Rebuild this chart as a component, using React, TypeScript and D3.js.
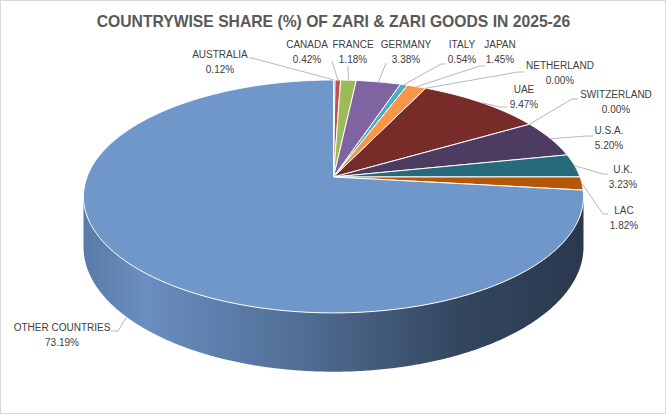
import React from "react";
import * as d3 from "d3";

const countries = ["AUSTRALIA","CANADA","FRANCE","GERMANY","ITALY","JAPAN","NETHERLAND","UAE","SWITZERLAND","U.S.A.","U.K.","LAC","OTHER COUNTRIES"];
const shares = [0.12,0.42,1.18,3.38,0.54,1.45,0.0,9.47,0.0,5.2,3.23,1.82,73.19];
const colors = ["#4F81BD","#C0504D","#9BBB59","#8064A2","#4BACC6","#F79646","#2C4D75","#772C2A","#5F7530","#4D3B62","#276A7C","#B65708","#7097C9"];
const title = "COUNTRYWISE SHARE (%) OF ZARI & ZARI GOODS IN 2025-26";

// label layout: text centre x, first baseline y, leader start (lx, ly), elbow x, attach to bottom rim
const labelLayout = [
  { x: 220, y: 58, lx: 249, ly: 58, ex: 252, bottom: false },
  { x: 307, y: 48, lx: 332, ly: 61, ex: 332, bottom: false },
  { x: 353, y: 48, lx: 348, ly: 66, ex: 348, bottom: false },
  { x: 406, y: 48, lx: 386, ly: 63, ex: 386, bottom: false },
  { x: 462, y: 48, lx: 446, ly: 64, ex: 441, bottom: false },
  { x: 500, y: 48, lx: 485, ly: 66, ex: 480, bottom: false },
  { x: 560, y: 69, lx: 524, ly: 72, ex: 518, bottom: false },
  { x: 524, y: 93, lx: 507, ly: 107, ex: 500, bottom: false },
  { x: 616, y: 98, lx: 578, ly: 99, ex: 572, bottom: false },
  { x: 609, y: 134, lx: 593, ly: 136, ex: 587, bottom: false },
  { x: 623, y: 173, lx: 608, ly: 174, ex: 603, bottom: false },
  { x: 624, y: 214, lx: 608, ly: 214, ex: 603, bottom: false },
  { x: 62, y: 331, lx: 111, ly: 331, ex: 118, bottom: true },
];

const W = 666, H = 414;
const CX = 333.5, CY = 177, A = 246.5, B = 113.2, K = 0.167, DEPTH = 49;

function proj(theta: number, z: number): [number, number] {
  const u = Math.sin(theta), v = -Math.cos(theta);
  const s = 1 / (1 - K * v);
  return [CX + A * u * s, CY + B * v * s + z * DEPTH * s];
}

function arcPts(a0: number, a1: number, z: number) {
  const n = Math.max(2, Math.ceil(Math.abs(a1 - a0) / (Math.PI / 360)));
  const pts: [number, number][] = [];
  for (let i = 0; i <= n; i++) pts.push(proj(a0 + ((a1 - a0) * i) / n, z));
  return pts;
}

export default function App() {
  const pie = d3.pie<number>().sort(null).value((d) => d).startAngle(0).endAngle(2 * Math.PI);
  const arcs = pie(shares);
  const line = d3.line();
  const thR = Math.acos(-K), thL = 2 * Math.PI - thR;

  const sides = arcs
    .map((a, i) => {
      const s0 = Math.max(a.startAngle, thR), s1 = Math.min(a.endAngle, thL);
      if (s1 <= s0) return null;
      const top = arcPts(s0, s1, 0);
      const bot = arcPts(s1, s0, 1);
      return { i, d: line([...top, ...bot])! + "Z" };
    })
    .filter(Boolean) as { i: number; d: string }[];

  const tops = arcs.map((a, i) => {
    if (a.endAngle - a.startAngle <= 0) return null;
    const pts = [[CX, CY] as [number, number], ...arcPts(a.startAngle, a.endAngle, 0)];
    return { i, d: line(pts)! + "Z" };
  }).filter(Boolean) as { i: number; d: string }[];

  return (
    <svg width={W} height={H} style={{ position: "absolute", left: 0, top: 0, fontFamily: "'Liberation Sans', Arial, sans-serif" }}>
      <defs>
        <linearGradient id="sideGrad" gradientUnits="userSpaceOnUse" x1={CX - A} x2={CX + A} y1={0} y2={0}>
          <stop offset="0" stopColor="#5a7ca8" />
          <stop offset="0.12" stopColor="#6a8ec0" />
          <stop offset="0.45" stopColor="#4f6c93" />
          <stop offset="0.75" stopColor="#34475f" />
          <stop offset="1" stopColor="#2a394e" />
        </linearGradient>
      </defs>
      <rect x={0.5} y={0.5} width={W - 1} height={H - 1} fill="#fff" stroke="#d9d9d9" />
      <text x={W / 2 + 0.5} y={27} textAnchor="middle" fontSize={15.7} fontWeight="bold" fill="#595959">{title}</text>
      {sides.map((s) => (
        <path key={"s" + s.i} d={s.d} fill="url(#sideGrad)" />
      ))}
      {tops.map((t) => (
        <path key={"t" + t.i} d={t.d} fill={colors[t.i]} stroke="#fff" strokeWidth={1} strokeLinejoin="round" />
      ))}
      {arcs.map((a, i) => {
        const L = labelLayout[i];
        const mid = (a.startAngle + a.endAngle) / 2;
        const [px, py] = proj(mid, L.bottom ? 1 : 0);
        return (
          <g key={"l" + i}>
            <path d={`M${L.lx},${L.ly}L${L.ex},${L.ly}L${px},${py}`} fill="none" stroke="#a6a6a6" strokeWidth={0.8} />
            <text x={L.x} y={L.y} textAnchor="middle" fontSize={10} fill="#404040">{countries[i]}</text>
            <text x={L.x} y={L.y + 15} textAnchor="middle" fontSize={10} fill="#404040">{shares[i].toFixed(2) + "%"}</text>
          </g>
        );
      })}
    </svg>
  );
}
